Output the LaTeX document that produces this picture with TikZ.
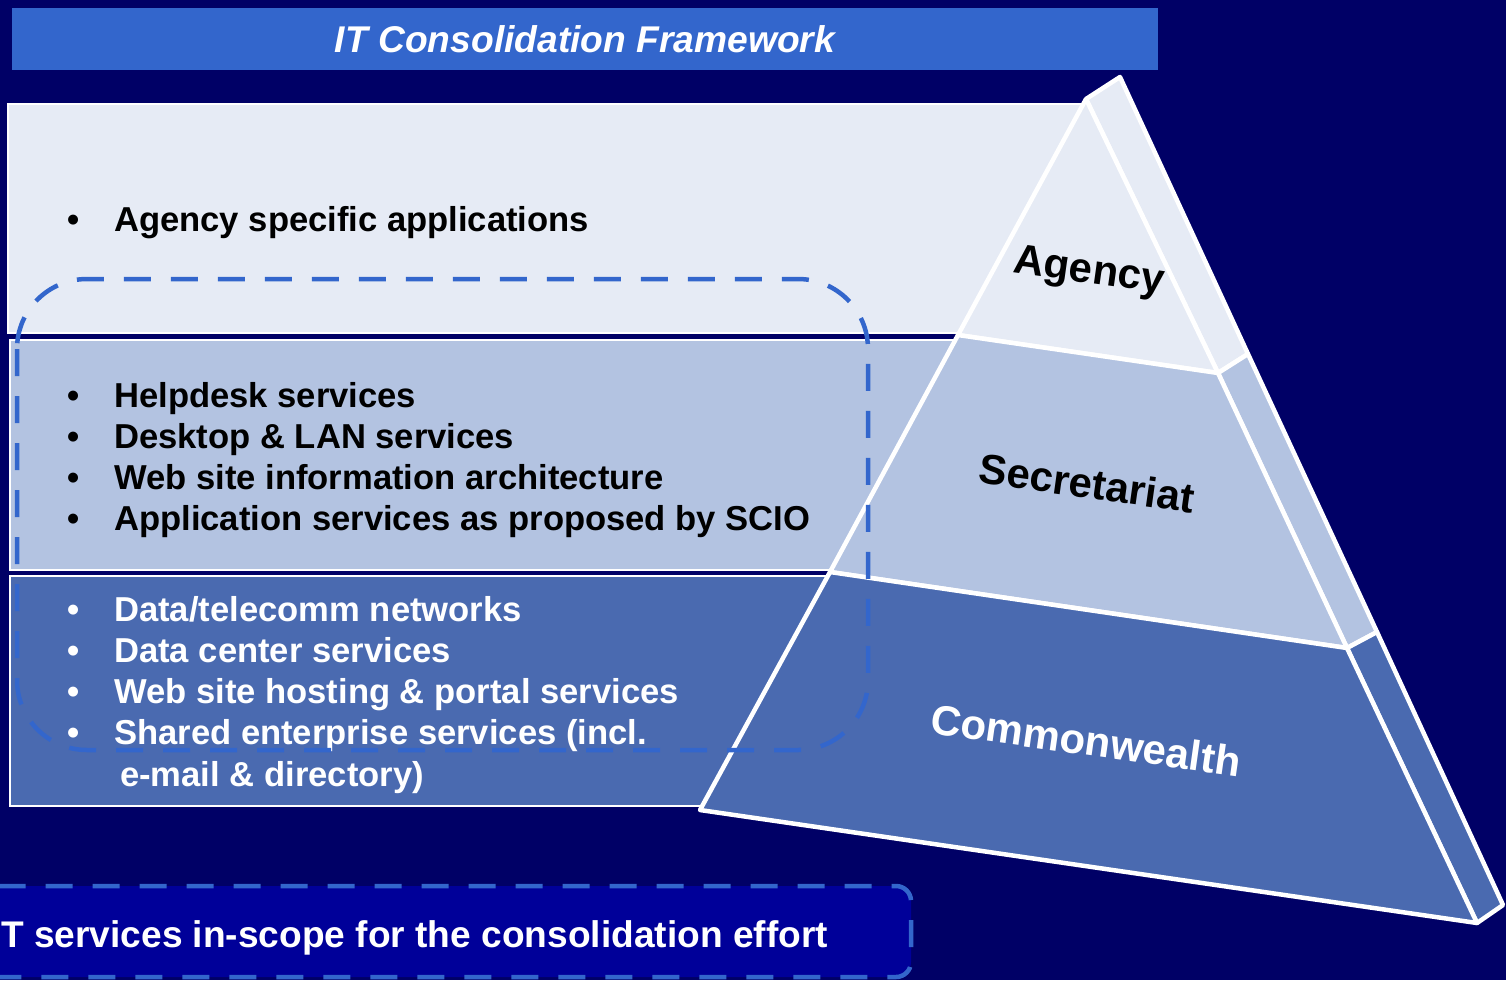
\documentclass[tikz,border=0pt]{standalone}
\RequirePackage{fontspec}
\setmainfont{Liberation Sans}
\RequirePackage{tikz}

\definecolor{navy}{RGB}{0,0,102}
\definecolor{barblue}{RGB}{51,102,204}
\definecolor{agencyfill}{RGB}{230,235,245}
\definecolor{secrfill}{RGB}{179,195,225}
\definecolor{commfill}{RGB}{74,106,176}
\definecolor{legendfill}{RGB}{0,0,153}

\newcommand{\bul}{\llap{\textbullet\hspace{35pt}}}

\begin{document}
\begin{tikzpicture}[x=1pt, y=-1pt,
        band/.style={draw=white, line width=1.2pt},
        face/.style={draw=white, line width=4.5pt, line join=round},
        item/.style={anchor=base west, inner sep=0pt, font=\bfseries\fontsize{34.6}{41}\selectfont},
        tier/.style={rotate=-8, inner sep=0pt, font=\bfseries\fontsize{42}{50}\selectfont},
        scopeline/.style={draw=barblue, line width=4.5pt, dash pattern=on 27pt off 20pt}]
        \useasboundingbox (0,0) rectangle (1506,980);
        \fill[navy] (0,0) rectangle (1506,980);

        \node[fill=barblue, minimum width=1146pt, minimum height=62pt, inner sep=0pt, text=white,
                font=\bfseries\itshape\fontsize{37.2}{44}\selectfont] (title) at (585,39) {IT Consolidation Framework};

        \draw[band, fill=agencyfill] (8,104) rectangle (1090,333);
        \draw[band, fill=secrfill] (10,340) rectangle (960,570);
        \draw[band, fill=commfill] (10,576) rectangle (835,806);

        \coordinate (apex) at (1086,99);
        \coordinate (apexback) at (1120,77);
        \coordinate (agl) at (958,335);
        \coordinate (agr) at (1218,373);
        \coordinate (agb) at (1248,354);
        \coordinate (sel) at (830,572);
        \coordinate (ser) at (1347,648);
        \coordinate (seb) at (1377,632);
        \coordinate (col) at (700,810);
        \coordinate (cor) at (1477,923);
        \coordinate (cob) at (1503,905);

        \draw[face, fill=agencyfill] (apex) -- (apexback) -- (agb) -- (agr) -- cycle;
        \draw[face, fill=secrfill] (agr) -- (agb) -- (seb) -- (ser) -- cycle;
        \draw[face, fill=commfill] (ser) -- (seb) -- (cob) -- (cor) -- cycle;
        \draw[face, fill=agencyfill] (apex) -- (agl) -- (agr) -- cycle;
        \draw[face, fill=secrfill] (agl) -- (sel) -- (ser) -- (agr) -- cycle;
        \draw[face, fill=commfill] (sel) -- (col) -- (cor) -- (ser) -- cycle;

        \node[tier] (agency) at (1089,273) {Agency};
        \node[tier] (secretariat) at (1087,483) {Secretariat};
        \node[tier, text=white] (commonwealth) at (1086,740) {Commonwealth};

        \node[item] (apps) at (114,231) {\bul Agency specific applications};
        \foreach \txt [count=\i from 0] in {Helpdesk services, Desktop \& LAN services,
                Web site information architecture, Application services as proposed by SCIO}
                \node[item] (secr\i) at (114,{407+41*\i}) {\bul\txt};
        \foreach \txt [count=\i from 0] in {Data/telecomm networks, Data center services,
                Web site hosting \& portal services, Shared enterprise services (incl.}
                \node[item, text=white] (comm\i) at (114,{621+41.3*\i}) {\bul\txt};
        \node[item, text=white] (comm4) at (120,786) {e-mail \& directory)};

        \draw[scopeline, rounded corners=70pt] (17,279) rectangle (868,750);

        \draw[scopeline, fill=legendfill, rounded corners=15pt] (-30,886) rectangle (911,977);
        \node[anchor=base west, inner sep=0pt, text=white, font=\bfseries\fontsize{37.1}{45}\selectfont]
                (legend) at (1,947) {T services in-scope for the consolidation effort};
\end{tikzpicture}
\end{document}
